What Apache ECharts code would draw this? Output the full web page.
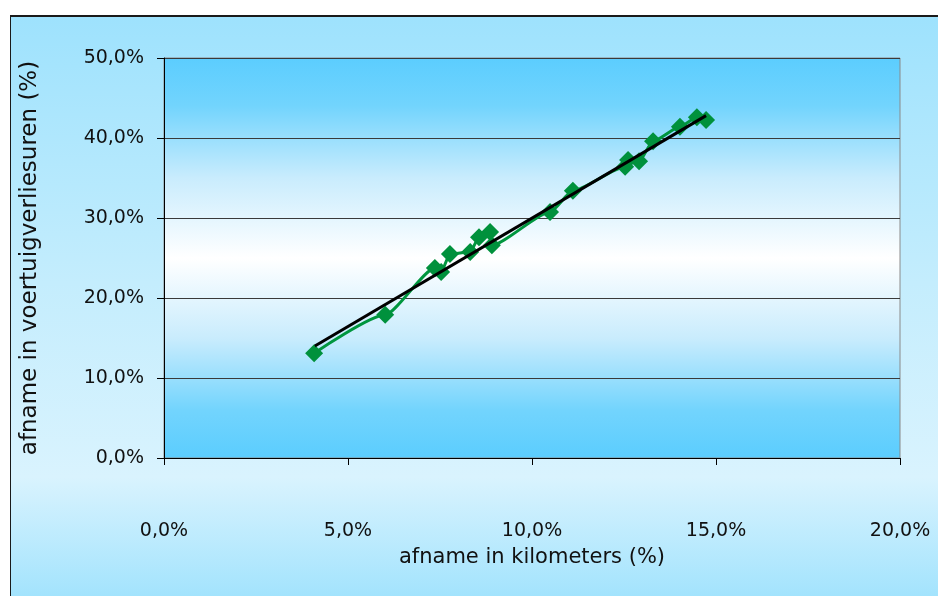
<!DOCTYPE html>
<html>
<head>
<meta charset="utf-8">
<script src="https://cdn.jsdelivr.net/npm/echarts@6/dist/echarts.min.js"></script>
<style>
  html, body { margin: 0; padding: 0; background: #ffffff; }
  #frame {
    position: absolute; left: 10px; top: 15px; width: 940px; height: 590px;
    border-left: 1px solid #1a1a1a; border-top: 2px solid #1a1a1a;
    background: linear-gradient(to bottom, #9ee2fd 0%, #c4edfd 45%, #d9f3fe 78%, #9ee2fd 100%);
  }
  #chart { position: absolute; left: 0; top: 0; width: 938px; height: 596px; }
</style>
</head>
<body>
<div id="frame"></div>
<div id="chart"></div>
<script>
// Decrease in kilometres driven (%) against decrease in vehicle loss hours (%)
const kmDecrease = [4.08, 6.01, 7.36, 7.53, 7.77, 8.32, 8.56, 8.86, 8.91, 10.49, 11.11, 12.53, 12.61, 12.91, 13.29, 14.02, 14.48, 14.73];
const lossHoursDecrease = [13.1, 17.9, 23.75, 23.25, 25.5, 25.75, 27.6, 28.25, 26.6, 30.75, 33.4, 36.4, 37.25, 37.1, 39.6, 41.4, 42.6, 42.25];

// Linear trend line end points
const trendX = [4.1, 14.73];
const trendY = [14.0, 42.8];

const xTicks = { min: 0, max: 20, step: 5 };
const yTicks = { min: 0, max: 50, step: 10 };

const xTitle = 'afname in kilometers (%)';
const yTitle = 'afname in voertuigverliesuren (%)';

const pct = v => v.toFixed(1).replace('.', ',') + '%';

const chart = echarts.init(document.getElementById('chart'), null, { renderer: 'canvas' });

const txt = { fontFamily: 'DejaVu Sans', color: '#111111' };

chart.setOption({
  backgroundColor: 'transparent',
  animation: false,
  grid: {
    left: 164, top: 58, right: 38, bottom: 138,
    show: true,
    borderColor: '#8a8a8a', borderWidth: 1,
    backgroundColor: new echarts.graphic.LinearGradient(0, 0, 0, 1, [
      { offset: 0, color: '#5bcdfe' },
      { offset: 0.12, color: '#72d4fd' },
      { offset: 0.3, color: '#c9ecfd' },
      { offset: 0.5, color: '#ffffff' },
      { offset: 0.7, color: '#c9ecfd' },
      { offset: 0.88, color: '#72d4fd' },
      { offset: 1, color: '#5bcdfe' }
    ])
  },
  xAxis: {
    type: 'value', min: xTicks.min, max: xTicks.max, interval: xTicks.step,
    name: xTitle, nameLocation: 'middle', nameGap: 89,
    nameTextStyle: Object.assign({ fontSize: 21 }, txt),
    axisLine: { show: true, onZero: false, lineStyle: { color: '#000', width: 1 } },
    axisTick: { show: true, length: 7, lineStyle: { color: '#000' } },
    axisLabel: Object.assign({ fontSize: 19, margin: 64, formatter: pct }, txt),
    splitLine: { show: false }
  },
  yAxis: {
    type: 'value', min: yTicks.min, max: yTicks.max, interval: yTicks.step,
    name: yTitle, nameLocation: 'middle', nameGap: 122,
    nameTextStyle: Object.assign({ fontSize: 23 }, txt),
    axisLine: { show: true, onZero: false, lineStyle: { color: '#000', width: 1 } },
    axisTick: { show: true, length: 7, lineStyle: { color: '#000' } },
    axisLabel: Object.assign({ fontSize: 19, margin: 20, formatter: pct }, txt),
    splitLine: { show: true, lineStyle: { color: '#3a3a3a', width: 1 } }
  },
  series: [
    {
      type: 'line',
      data: kmDecrease.map((x, i) => [x, lossHoursDecrease[i]]),
      smooth: 0.2,
      smoothMonotone: 'x',
      symbol: 'diamond', symbolSize: 18,
      itemStyle: { color: '#00913c' },
      lineStyle: { color: '#00963e', width: 3 },
      z: 3
    },
    {
      type: 'line',
      data: trendX.map((x, i) => [x, trendY[i]]),
      symbol: 'none',
      lineStyle: { color: '#000000', width: 3 },
      z: 4
    }
  ]
});
</script>
</body>
</html>
